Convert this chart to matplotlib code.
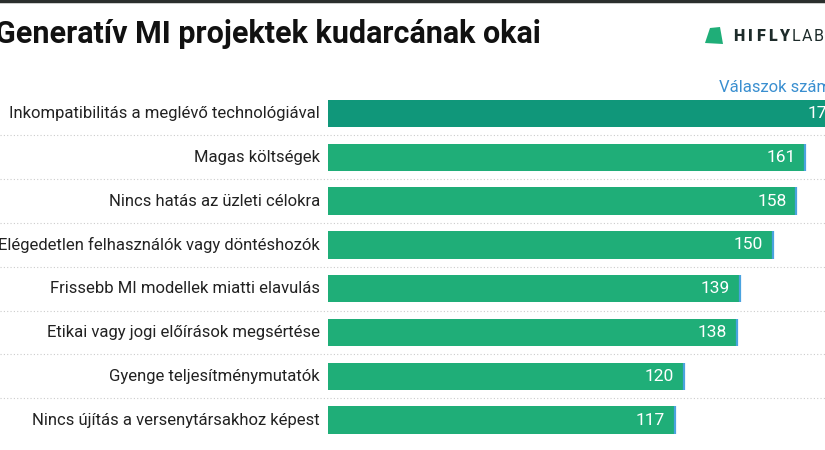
import matplotlib.pyplot as plt
from matplotlib.patches import Polygon

# Data
categories = [
    'Inkompatibilitás a meglévő technológiával',
    'Magas költségek',
    'Nincs hatás az üzleti célokra',
    'Elégedetlen felhasználók vagy döntéshozók',
    'Frissebb MI modellek miatti elavulás',
    'Etikai vagy jogi előírások megsértése',
    'Gyenge teljesítménymutatók',
    'Nincs újítás a versenytársakhoz képest',
]
values = [175, 161, 158, 150, 139, 138, 120, 117]

title = 'Generatív MI projektek kudarcának okai'
axis_note = 'Válaszok száma'

plt.rcParams['font.family'] = ['Roboto', 'DejaVu Sans']

fig = plt.figure(figsize=(8.25, 4.5), dpi=100)
fig.patch.set_facecolor('white')

# one axes over the whole figure; 0 sits at x=328px, 2.965 px per unit
px = 2.965
ax = fig.add_axes([0, 0, 1, 1])
ax.set_xlim(-328 / px, 497 / px)
row = 43.8
ax.set_ylim((450 - 113.5) / row, -113.5 / row)
ax.axis('off')

ypos = list(range(len(categories)))
colors = ['#10977a'] + ['#1fae78'] * (len(categories) - 1)
ax.barh(ypos, values, height=0.63, color=colors, zorder=2)
# thin blue cap at the end of each bar
ax.vlines(values, [y - 0.315 for y in ypos], [y + 0.315 for y in ypos],
          color='#4aa3df', lw=1.6, zorder=3)

for y, cat, v in zip(ypos, categories, values):
    ax.text(-8 / px, y, cat, ha='right', va='center', fontsize=12, color='#222222')
    ax.text(v - 10 / px, y, str(v), ha='right', va='center', fontsize=12.5, color='white', zorder=4)

# dotted separators between rows
for y in ypos[:-1]:
    ax.axhline(y + 0.5, color='#cccccc', lw=0.8, ls=(0, (1, 2)), zorder=1)

# title and note
fig.text(-5 / 825, 1 - 43 / 450, title, fontsize=22, fontweight='bold', color='#111111',
         ha='left', va='baseline')
fig.text(719 / 825, 1 - 92 / 450, axis_note, fontsize=12, color='#3a8fd0',
         ha='left', va='baseline')

# top dark rule
fig.add_artist(plt.Line2D([0, 1], [1 - 1 / 450, 1 - 1 / 450], color='#2b2f2d', lw=2.5))

# logo
logo = Polygon([[705 / 825, 1 - 43 / 450], [710 / 825, 1 - 28 / 450], [720 / 825, 1 - 27 / 450],
                [723 / 825, 1 - 44 / 450]], closed=True, transform=fig.transFigure,
               facecolor='#1fae78', edgecolor='none')
fig.add_artist(logo)
letters = ['H', 'I', 'F', 'L', 'Y', 'L', 'A', 'B']
lx = [733, 748, 756, 768, 779, 792, 802, 814]
for ch, x, i in zip(letters, lx, range(len(letters))):
    fig.text(x / 825, 1 - 41 / 450, ch, fontsize=11.5,
             fontweight='black' if i < 5 else 'normal', color='#1d2b2a',
             ha='left', va='baseline')

fig.savefig('out.png', dpi=100)
